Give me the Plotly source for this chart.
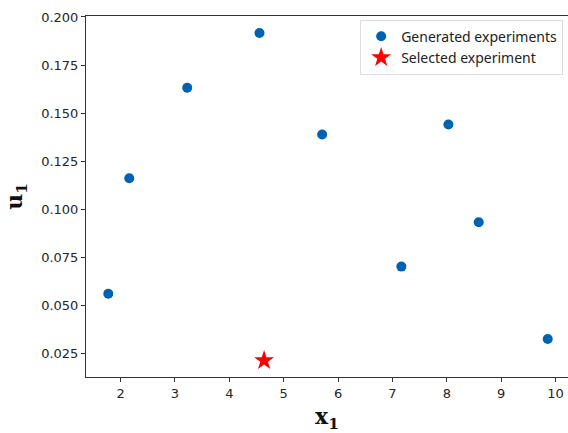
import plotly.graph_objects as go

gen_x = [1.774, 2.16, 3.226, 4.555, 5.708, 7.165, 8.03, 8.588, 9.857]
gen_y = [0.0561, 0.1161, 0.1632, 0.1917, 0.1389, 0.0702, 0.1441, 0.0933, 0.0326]
sel_x = [4.64]
sel_y = [0.0214]

x_ticks = [2, 3, 4, 5, 6, 7, 8, 9, 10]
y_ticks = [0.025, 0.050, 0.075, 0.100, 0.125, 0.150, 0.175, 0.200]

fig = go.Figure()
fig.add_trace(go.Scatter(x=gen_x, y=gen_y, mode="markers", name="Generated experiments",
                         marker=dict(color="#0062B3", size=10, line=dict(width=0))))
fig.add_trace(go.Scatter(x=sel_x, y=sel_y, mode="markers", name="Selected experiment",
                         marker=dict(color="#FF0000", size=15, symbol="star", line=dict(width=0))))

fig.update_layout(
    width=568, height=433,
    margin=dict(l=86, r=0, t=16, b=56),
    paper_bgcolor="white", plot_bgcolor="white",
    font=dict(family="DejaVu Sans", size=13, color="#262626"),
    showlegend=True,
    legend=dict(x=0.99, y=0.99, xanchor="right", yanchor="top",
                bgcolor="white", bordercolor="#DDDDDD", borderwidth=1,
                font=dict(family="Noto Sans", size=14, color="#222222"),
                itemsizing="trace", tracegroupgap=2),
)
fig.update_xaxes(
    range=[1.364, 10.23], tickvals=x_ticks, ticktext=[str(v) for v in x_ticks],
    showgrid=False, zeroline=False, showline=True, linecolor="#333333", linewidth=1,
    mirror=True, ticks="outside", ticklen=4, tickcolor="#333333",
    title=dict(text="<b>x<sub>1</sub></b>", font=dict(family="DejaVu Serif", size=22, color="#111111"), standoff=10),
)
fig.update_yaxes(
    range=[0.0128, 0.2005], tickvals=y_ticks, ticktext=[f"{v:.3f}" for v in y_ticks],
    showgrid=False, zeroline=False, showline=True, linecolor="#333333", linewidth=1,
    ticks="outside", ticklen=4, tickcolor="#333333",
    title=dict(text="<b>u<sub>1</sub></b>", font=dict(family="DejaVu Serif", size=22, color="#111111"), standoff=12),
)

fig.write_html("out.html")
